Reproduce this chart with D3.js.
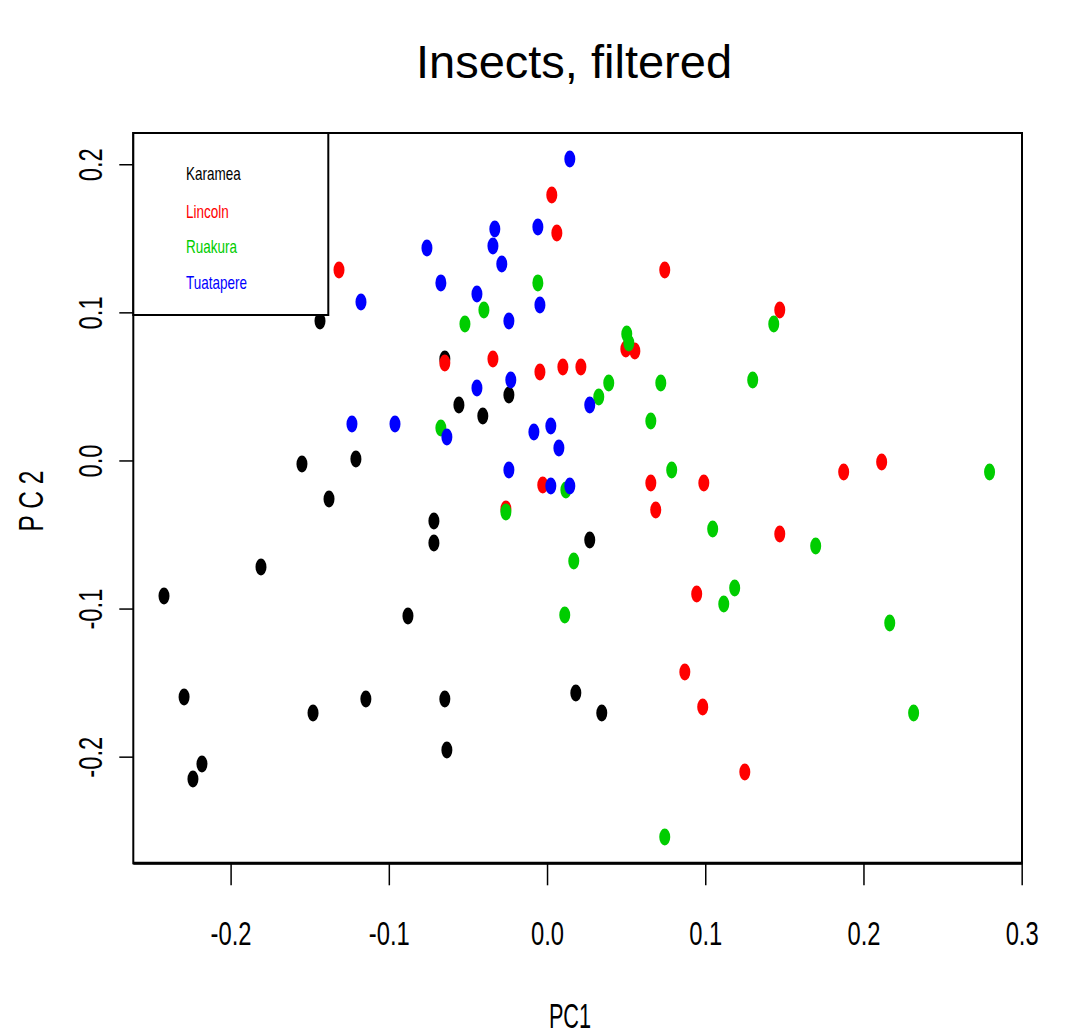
<!DOCTYPE html>
<html>
<head>
<meta charset="utf-8">
<script src="https://cdn.jsdelivr.net/npm/d3@7"></script>
<style>
  body { margin: 0; background: #fff; }
  svg { display: block; font-family: "Liberation Sans", Arial, sans-serif; }
</style>
</head>
<body>
<div id="chart"></div>
<script>
const width = 1072, height = 1035;

const groups = ["Karamea", "Lincoln", "Ruakura", "Tuatapere"];
const colors = ["#000000", "#ff0000", "#00cd00", "#0000ff"];

const xTicks = [-0.2, -0.1, 0.0, 0.1, 0.2, 0.3];
const yTicks = [-0.2, -0.1, 0.0, 0.1, 0.2];

// [PC1, PC2] per site
const karamea = [
  [-0.1435, 0.0942], [-0.0646, 0.0685], [-0.0557, 0.0375], [-0.0406, 0.0300], [-0.0241, 0.0442],
  [-0.1549, -0.0024], [-0.1208, 0.0010], [-0.1378, -0.0260], [-0.0715, -0.0409], [-0.0715, -0.0557],
  [-0.1808, -0.0719], [-0.2421, -0.0915], [-0.0879, -0.1050], [-0.2294, -0.1597], [-0.1479, -0.1705],
  [-0.1145, -0.1610], [-0.0646, -0.1610], [-0.0633, -0.1955], [-0.2181, -0.2049], [-0.2238, -0.2151],
  [0.0270, -0.0537], [0.0182, -0.1570], [0.0346, -0.1705]
];
const lincoln = [
  [-0.1315, 0.1286], [0.0030, 0.1793], [0.0062, 0.1536], [0.0744, 0.1286], [0.1471, 0.1016],
  [-0.0646, 0.0658], [-0.0342, 0.0685], [-0.0045, 0.0598], [0.0100, 0.0631], [0.0214, 0.0631],
  [0.0498, 0.0753], [0.0555, 0.0739], [-0.0027, -0.0165], [0.0656, -0.0152], [0.0991, -0.0152],
  [0.0687, -0.0334], [-0.0260, -0.0327], [0.1471, -0.0496], [0.0946, -0.0901], [0.0871, -0.1428],
  [0.0984, -0.1664], [0.1250, -0.2103], [0.1875, -0.0078], [0.2115, -0.0010]
];
const ruakura = [
  [-0.0058, 0.1199], [-0.0399, 0.1016], [-0.0519, 0.0922], [0.0504, 0.0854], [0.0517, 0.0793],
  [0.0390, 0.0523], [0.0327, 0.0429], [0.0719, 0.0523], [0.0656, 0.0267], [-0.0671, 0.0219],
  [0.1300, 0.0544], [0.1433, 0.0922], [0.0788, -0.0064], [0.0119, -0.0199], [-0.0260, -0.0348],
  [0.1047, -0.0463], [0.0169, -0.0679], [0.1186, -0.0861], [0.1117, -0.0969], [0.0112, -0.1043],
  [0.0744, -0.2542], [0.2797, -0.0078], [0.1698, -0.0577], [0.2166, -0.1097], [0.2317, -0.1705]
];
const tuatapere = [
  [0.0144, 0.2036], [-0.0330, 0.1563], [-0.0058, 0.1577], [-0.0342, 0.1448], [-0.0759, 0.1435],
  [-0.0286, 0.1327], [-0.0671, 0.1199], [-0.0443, 0.1124], [-0.0045, 0.1050], [-0.0241, 0.0942],
  [-0.1176, 0.1070], [-0.0229, 0.0544], [-0.0443, 0.0490], [0.0270, 0.0375], [-0.1233, 0.0246],
  [-0.0961, 0.0246], [-0.0633, 0.0159], [-0.0083, 0.0192], [0.0024, 0.0233], [0.0075, 0.0084],
  [-0.0241, -0.0064], [0.0024, -0.0172], [0.0144, -0.0172]
];
const series = [karamea, lincoln, ruakura, tuatapere];

const plotLeft = 133.3, plotRight = 1022, plotTop = 133, plotBottom = 863.3;

const x = d3.scaleLinear().domain([-0.2615, 0.3002]).range([plotLeft, plotRight]);
const y = d3.scaleLinear().domain([-0.272, 0.2211]).range([plotBottom, plotTop]);

// R style labels use a plain hyphen for the minus sign
const fmt = d => d3.format(".1f")(d).replace("\u2212", "-");

const svg = d3.select("#chart").append("svg")
    .attr("width", width).attr("height", height);

svg.append("rect").attr("width", width).attr("height", height).attr("fill", "#fff");

// title
svg.append("text")
    .attr("x", 574).attr("y", 78)
    .attr("text-anchor", "middle")
    .attr("font-size", 47)
    .text("Insects, filtered");

// axes
const xAxis = svg.append("g")
    .attr("transform", `translate(0,${plotBottom})`)
    .call(d3.axisBottom(x).tickValues(xTicks).tickFormat(fmt).tickSize(22).tickSizeOuter(0));
xAxis.select(".domain").remove();
xAxis.selectAll("line").attr("stroke", "#000").attr("stroke-width", 1.5);
xAxis.selectAll("text")
    .attr("y", 0).attr("dy", 0)
    .attr("transform", "translate(0,82) scale(0.7,1)")
    .attr("font-size", 34).attr("fill", "#000")
    .attr("font-family", "Liberation Sans, Arial, sans-serif");

const yAxis = svg.append("g")
    .attr("transform", `translate(${plotLeft},0)`)
    .call(d3.axisLeft(y).tickValues(yTicks).tickFormat(fmt).tickSize(14).tickSizeOuter(0));
yAxis.select(".domain").remove();
yAxis.selectAll("line").attr("stroke", "#000").attr("stroke-width", 1.5);
yAxis.selectAll("text")
    .attr("x", 0).attr("dy", 0)
    .attr("text-anchor", "middle")
    .attr("transform", "translate(-31,0) rotate(-90) scale(0.7,1)")
    .attr("font-size", 34).attr("fill", "#000")
    .attr("font-family", "Liberation Sans, Arial, sans-serif");

// axis titles
svg.append("text")
    .attr("transform", "translate(570,1028) scale(0.62,1)")
    .attr("text-anchor", "middle").attr("font-size", 35)
    .text("PC1");
svg.append("text")
    .attr("transform", "translate(43,501) rotate(-90) scale(0.7,1)")
    .attr("text-anchor", "middle").attr("font-size", 35)
    .text("P C 2");

// points
series.forEach((pts, i) => {
  svg.append("g").selectAll("ellipse").data(pts).join("ellipse")
      .attr("cx", d => x(d[0]))
      .attr("cy", d => y(d[1]))
      .attr("rx", 5.5).attr("ry", 8.5)
      .attr("fill", colors[i]);
});

// plot box
svg.append("rect")
    .attr("x", plotLeft).attr("y", plotTop)
    .attr("width", plotRight - plotLeft).attr("height", plotBottom - plotTop)
    .attr("fill", "none").attr("stroke", "#000").attr("stroke-width", 2);
svg.append("line")
    .attr("x1", plotLeft).attr("x2", plotRight).attr("y1", plotBottom).attr("y2", plotBottom)
    .attr("stroke", "#000").attr("stroke-width", 3);

// legend
const legend = svg.append("g");
legend.append("rect")
    .attr("x", plotLeft).attr("y", plotTop)
    .attr("width", 195).attr("height", 182)
    .attr("fill", "#fff").attr("stroke", "#000").attr("stroke-width", 2);
const legendY = [180, 218, 253, 289];
groups.forEach((g, i) => {
  legend.append("text")
      .attr("transform", `translate(186,${legendY[i]}) scale(0.75,1)`)
      .attr("font-size", 18)
      .attr("fill", colors[i])
      .text(g);
});
</script>
</body>
</html>
